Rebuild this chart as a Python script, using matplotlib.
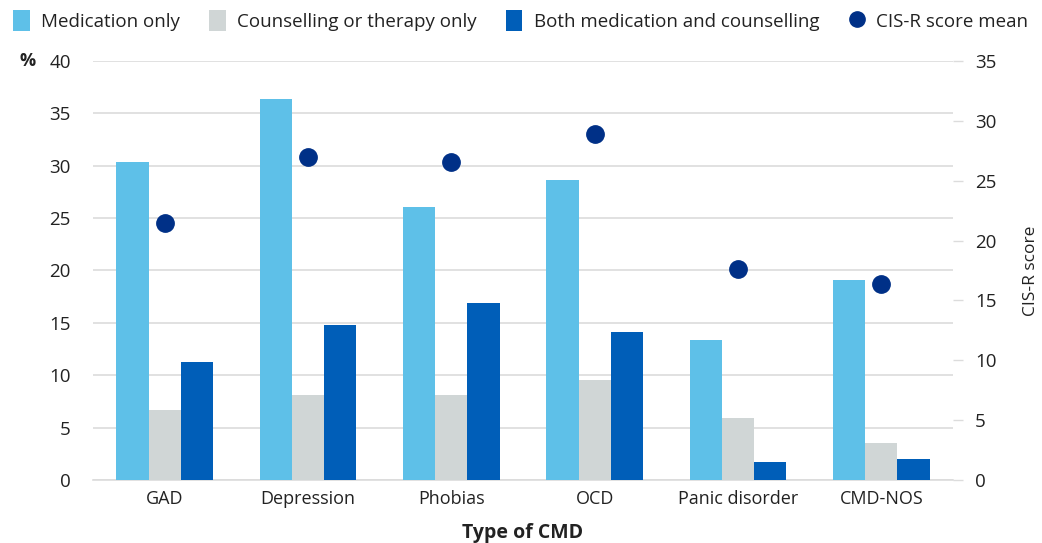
import numpy as np
import matplotlib.pyplot as plt
from matplotlib.patches import Patch
from matplotlib.lines import Line2D

plt.rcParams['font.family'] = ['Open Sans', 'DejaVu Sans']

categories = ['GAD', 'Depression', 'Phobias', 'OCD', 'Panic disorder', 'CMD-NOS']
medication_only = [30.4, 36.4, 26.1, 28.6, 13.4, 19.1]
therapy_only = [6.7, 8.1, 8.1, 9.5, 5.9, 3.5]
both = [11.3, 14.8, 16.9, 14.1, 1.7, 2.0]
cisr_mean = [21.5, 27.0, 26.6, 28.9, 17.6, 16.4]

c_med = '#5EC0E8'
c_ther = '#D0D6D6'
c_both = '#005EB8'
c_dot = '#003087'
c_grid = '#DCDCDC'
c_text = '#222222'

fig = plt.figure(figsize=(10.42, 5.43), dpi=100)
ax = fig.add_axes([0.0893, 0.116, 0.8253, 0.7717])
ax2 = ax.twinx()

x = np.arange(len(categories))
w = 0.225
ax.bar(x - w, medication_only, w, color=c_med, zorder=3)
ax.bar(x, therapy_only, w, color=c_ther, zorder=3)
ax.bar(x + w, both, w, color=c_both, zorder=3)
ax2.plot(x, cisr_mean, 'o', color=c_dot, markersize=12.5, zorder=4)

ax.set_xlim(-0.5, len(categories) - 0.5)
ax.set_ylim(0, 40)
ax2.set_ylim(0, 35)
ax.set_yticks(np.arange(0, 41, 5))
ax2.set_yticks(np.arange(0, 36, 5))
ax.yaxis.grid(True, color=c_grid, linewidth=1.2, zorder=0)
ax.set_axisbelow(True)

for a in (ax, ax2):
    for s in a.spines.values():
        s.set_visible(False)
ax.spines['bottom'].set_visible(True)
ax.spines['bottom'].set_color(c_grid)
ax.spines['bottom'].set_linewidth(1.2)

ax.set_xticks(x)
ax.set_xticklabels(categories)
ax.tick_params(axis='x', length=0, pad=7, labelsize=13, labelcolor=c_text)
ax.tick_params(axis='y', length=0, pad=16, labelsize=13.5, labelcolor=c_text)
ax2.tick_params(axis='y', length=7, width=1, color=c_grid, pad=9,
                labelsize=13.5, labelcolor=c_text)

ax.set_xlabel('Type of CMD', fontsize=14, fontweight='bold', color=c_text, labelpad=11)
ax2.set_ylabel('CIS-R score', fontsize=12.5, color=c_text, labelpad=19)
fig.text(0.019, 0.888, '%', fontsize=13, fontweight='bold', color=c_text,
         ha='left', va='center')

handles = [
    Patch(facecolor=c_med, label='Medication only'),
    Patch(facecolor=c_ther, label='Counselling or therapy only'),
    Patch(facecolor=c_both, label='Both medication and counselling'),
    Line2D([], [], marker='o', linestyle='none', color=c_dot, markersize=11,
           label='CIS-R score mean'),
]
fig.legend(handles=handles, loc='upper left', bbox_to_anchor=(-0.004, 1.012), ncol=4,
           frameon=False, fontsize=13.5, handlelength=0.9, handleheight=1.3,
           handletextpad=0.6, columnspacing=1.55, labelcolor=c_text)

fig.savefig('out.png', dpi=100, facecolor='white')
